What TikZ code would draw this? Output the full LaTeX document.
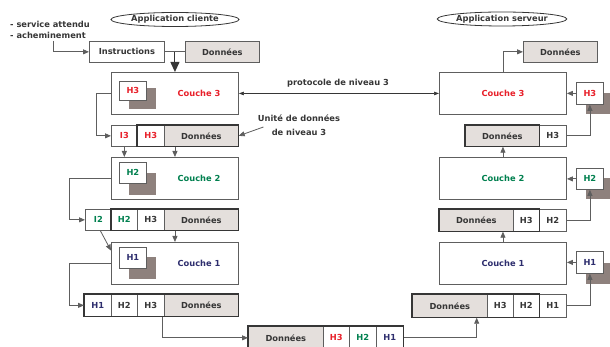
\documentclass[tikz,border=0pt]{standalone}
\usepackage{fontspec}
\setmainfont{DejaVu Sans}
\usetikzlibrary{arrows.meta,shapes.geometric,calc}
\definecolor{txt}{HTML}{363636}
\definecolor{linec}{HTML}{5E5E5E}
\definecolor{red3}{HTML}{E8202A}
\definecolor{grn2}{HTML}{00804F}
\definecolor{nav1}{HTML}{2E2E6E}
\definecolor{fillg}{HTML}{E4DFDC}
\definecolor{shad}{HTML}{8E817D}
\begin{document}
\begin{tikzpicture}[x=1pt,y=-1pt,
  every node/.style={font=\fontsize{8.3}{10.5}\selectfont\bfseries, text=txt},
  cell/.style={draw=linec, line width=0.7pt, inner sep=0pt, anchor=north west, minimum height=21pt, fill=white},
  gcell/.style={cell, fill=fillg},
  layer/.style={draw=linec, line width=0.9pt, inner sep=0pt, anchor=north west, minimum width=127pt, minimum height=42pt, fill=white},
  hbox/.style={draw=linec, line width=0.8pt, inner sep=0pt, anchor=north west, minimum width=27pt, fill=white},
  shadowbox/.style={fill=shad, draw=none},
  frame/.style={draw=txt, line width=1.5pt},
  conn/.style={draw=linec, line width=0.8pt},
  arr/.style={conn, -{Triangle[length=6pt,width=5pt]}},
  bigarr/.style={draw=txt, line width=1pt, -{Triangle[length=10pt,width=9pt]}},
  darr/.style={draw=txt, line width=0.6pt, {Triangle[length=5pt,width=3.5pt]}-{Triangle[length=5pt,width=3.5pt]}},
  appl/.style={ellipse, draw=txt, line width=0.8pt, inner sep=0pt, minimum width=128pt, minimum height=14pt}
]
\useasboundingbox (0,0) rectangle (610,347);

% ---------- titles
\node[appl] (appC) at (175,19.5) {Application cliente};
\node[appl] (appS) at (502,19) {Application serveur};

% ---------- top left
\node[anchor=north west, align=left, inner sep=0pt, font=\fontsize{8.3}{11}\selectfont\bfseries] (svc) at (10,20.5) {- service attendu\\- acheminement};
\node[cell, minimum width=75pt] (instr) at (89,41) {Instructions};
\node[gcell, minimum width=74pt] (dIn) at (185,41) {Données};

% ---------- left layers
\node[layer] (L3) at (111,72) {};
\node[layer] (L2) at (111,157) {};
\node[layer] (L1) at (111,242) {};
\node[text=red3] at (199,93) {Couche 3};
\node[text=grn2] at (199,178) {Couche 2};
\node[text=nav1] at (199,263) {Couche 1};

\fill[shadowbox] (129,88) rectangle (156,109);
\node[hbox, minimum height=19pt, text=red3] (h3L) at (119,81) {H3};
\fill[shadowbox] (129,173) rectangle (156,195);
\node[hbox, minimum height=21pt, text=grn2] (h2L) at (119,162) {H2};
\fill[shadowbox] (129,257) rectangle (156,279);
\node[hbox, minimum height=21pt, text=nav1] (h1L) at (119,247) {H1};

% ---------- left row 3
\node[cell, minimum width=26pt, text=red3] (I3) at (111,125) {I3};
\node[cell, minimum width=27pt, text=red3] (a3h3) at (137,125) {H3};
\node[gcell, minimum width=74pt] (a3d) at (164,125) {Données};
\draw[frame] (a3h3.north west) rectangle (a3d.south east);

% ---------- left row 2
\node[cell, minimum width=26pt, text=grn2] (I2) at (85,209) {I2};
\node[cell, minimum width=26pt, text=grn2] (a2h2) at (111,209) {H2};
\node[cell, minimum width=27pt] (a2h3) at (137,209) {H3};
\node[gcell, minimum width=74pt] (a2d) at (164,209) {Données};
\draw[frame] (a2h2.north west) rectangle (a2d.south east);

% ---------- left row 1
\node[cell, minimum width=27pt, minimum height=22pt, text=nav1] (a1h1) at (84,294) {H1};
\node[cell, minimum width=26pt, minimum height=22pt] (a1h2) at (111,294) {H2};
\node[cell, minimum width=27pt, minimum height=22pt] (a1h3) at (137,294) {H3};
\node[gcell, minimum width=74pt, minimum height=22pt] (a1d) at (164,294) {Données};
\draw[frame] (a1h1.north west) rectangle (a1d.south east);

% ---------- bottom packet
\node[gcell, minimum width=75pt, minimum height=23pt] (bd) at (248,326) {Données};
\node[cell, minimum width=26pt, minimum height=23pt, text=red3] (bh3) at (323,326) {H3};
\node[cell, minimum width=27pt, minimum height=23pt, text=grn2] (bh2) at (349,326) {H2};
\node[cell, minimum width=27pt, minimum height=23pt, text=nav1] (bh1) at (376,326) {H1};
\draw[frame] (bd.north west) rectangle (bh1.south east);

% ---------- right layers
\node[layer] (R3) at (439,72) {};
\node[layer] (R2) at (439,157) {};
\node[layer] (R1) at (439,242) {};
\node[text=red3] at (R3.center) {Couche 3};
\node[text=grn2] at (R2.center) {Couche 2};
\node[text=nav1] at (R1.center) {Couche 1};

\fill[shadowbox] (586,93) rectangle (613,114);
\node[hbox, minimum height=22pt, text=red3] (h3R) at (576,82) {H3};
\fill[shadowbox] (586,178) rectangle (613,199);
\node[hbox, minimum height=21pt, text=grn2] (h2R) at (576,168) {H2};
\fill[shadowbox] (586,263) rectangle (613,284);
\node[hbox, minimum height=22pt, text=nav1] (h1R) at (576,251) {H1};

\node[gcell, minimum width=74pt] (dOut) at (523,41) {Données};

% ---------- right row 3
\node[gcell, minimum width=74pt] (b3d) at (465,125) {Données};
\node[cell, minimum width=27pt] (b3h3) at (539,125) {H3};
\draw[frame] (b3d.north west) rectangle (b3d.south east);

% ---------- right row 2
\node[gcell, minimum width=74pt, minimum height=22pt] (b2d) at (439,209) {Données};
\node[cell, minimum width=26pt, minimum height=22pt] (b2h3) at (513,209) {H3};
\node[cell, minimum width=27pt, minimum height=22pt] (b2h2) at (539,209) {H2};
\draw[frame] (b2d.north west) rectangle (b2h3.south east);

% ---------- right row 1
\node[gcell, minimum width=75pt, minimum height=23pt] (b1d) at (412,294) {Données};
\node[cell, minimum width=26pt, minimum height=23pt] (b1h3) at (487,294) {H3};
\node[cell, minimum width=26pt, minimum height=23pt] (b1h2) at (513,294) {H2};
\node[cell, minimum width=27pt, minimum height=23pt] (b1h1) at (539,294) {H1};
\draw[frame] (b1d.north west) rectangle (b1h2.south east);

% ---------- annotations
\node (proto) at (338,83) {protocole de niveau 3};
\node[align=center, font=\fontsize{8.3}{13.5}\selectfont\bfseries] (unite) at (299,125) {Unité de données\\de niveau 3};

% ---------- connectors (left)
\coordinate (svcdown) at (53,41);
\draw[arr] (svcdown) |- (instr.west);
\draw[conn] (instr.east) -- (dIn.west);
\draw[bigarr] (instr.east -| L3.north) -- (L3.north);
\draw[darr] (L3.east) -- (R3.west);
\draw[arr] ($(unite.west)+(9,2)$) -- (a3d.east);

\draw[arr] (L3.west) -- ++(-15,0) |- (I3.west);
\draw[arr] (I3.south) -- (I3.south |- L2.north);
\draw[arr] (L2.north |- a3d.south) -- (L2.north);

\draw[arr] (L2.west) -- ++(-42,0) |- (I2.west);
\draw[arr] ($(I2.south)+(2,0)$) -- ($(L1.north west)!0.2!(L1.south west)$);
\draw[arr] (L1.north |- a2d.south) -- (L1.north);

\draw[arr] (L1.west) -- ++(-42,0) |- (a1h1.west);
\draw[arr] ($(a1h3.south east)+(-2,0)$) |- (bd.west);

% ---------- connectors (right)
\draw[arr] (bh1.east) -| ($(b1d.south east)+(-11,0)$);
\draw[arr] (b1h1.east) -| (h1R.south);
\draw[arr] (h1R.west) -- (h1R.west -| R1.east);
\draw[arr] (R1.north) -- (R1.north |- b2d.south);

\draw[arr] (b2h2.east) -| (h2R.south);
\draw[arr] (h2R.west) -- (h2R.west -| R2.east);
\draw[arr] (R2.north) -- (R2.north |- b3d.south);

\draw[arr] (b3h3.east) -| (h3R.south);
\draw[arr] (h3R.west) -- (h3R.west -| R3.east);
\draw[arr] (R3.north) |- (dOut.west);
\end{tikzpicture}
\end{document}
